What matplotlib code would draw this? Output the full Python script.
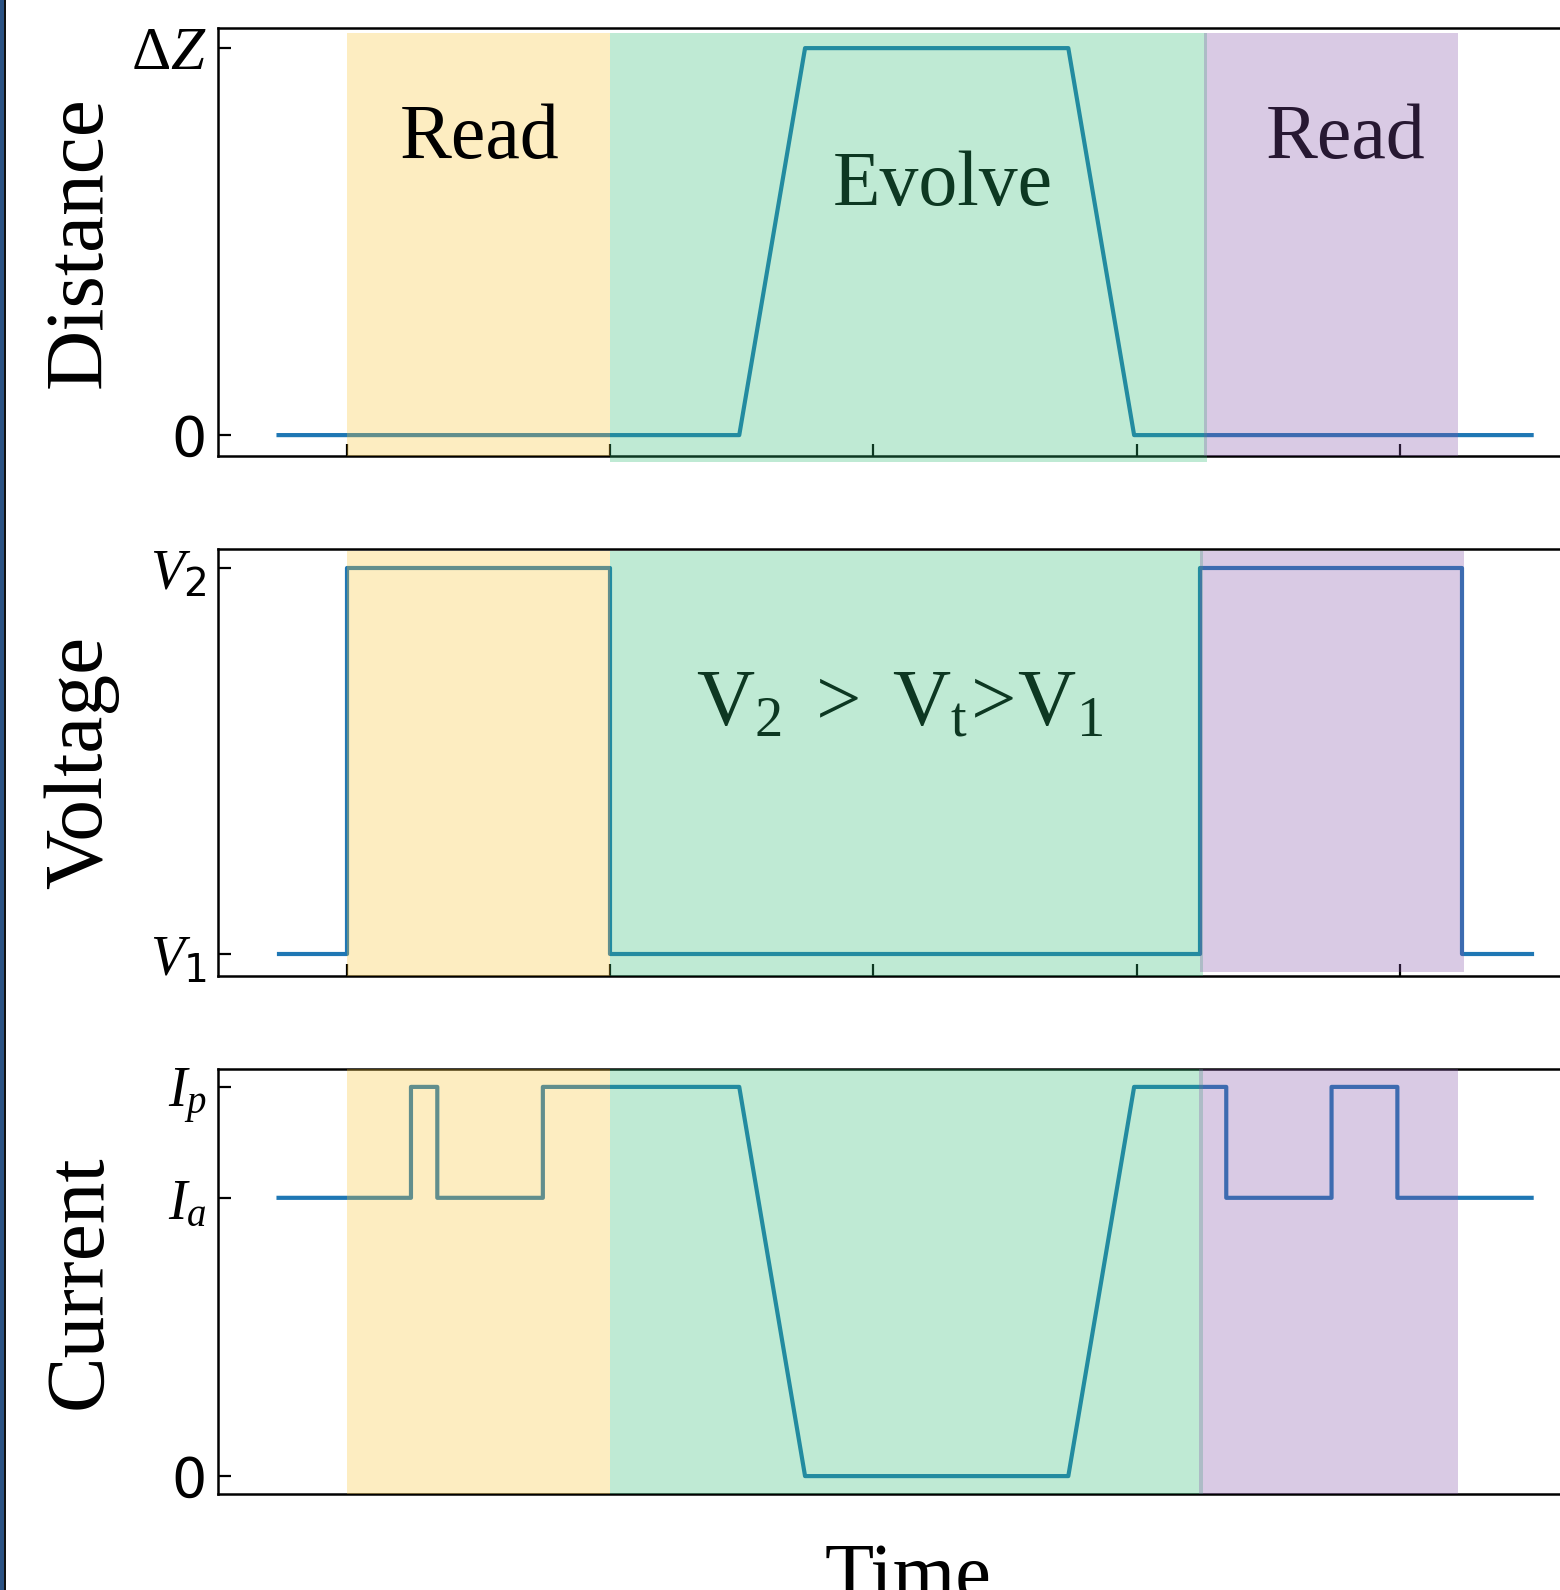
import matplotlib
matplotlib.use("Agg")
import matplotlib.pyplot as plt
from matplotlib.patches import Rectangle

# Time axis values (arbitrary units, ticks at 0..4)
t_distance = [-0.26, 1.49, 1.74, 2.74, 2.99, 4.5]
distance = [0, 0, 1, 1, 0, 0]

t_voltage = [-0.26, 0.0, 0.0, 1.0, 1.0, 3.24, 3.24, 4.235, 4.235, 4.5]
voltage = [0, 0, 1, 1, 0, 0, 1, 1, 0, 0]

I_P = 1.0
I_A = 0.715
t_current = [-0.26, 0.243, 0.243, 0.343, 0.343, 0.744, 0.744, 1.49, 1.74,
             2.74, 2.99, 3.34, 3.34, 3.74, 3.74, 3.99, 3.99, 4.5]
current = [I_A, I_A, I_P, I_P, I_A, I_A, I_P, I_P, 0, 0,
           I_P, I_P, I_A, I_A, I_P, I_P, I_A, I_A]

# phase windows (start, end) per panel: read / evolve / read
phases_distance = [(0.0, 1.0), (1.0, 3.267), (3.255, 4.22)]
phases_voltage = [(0.0, 1.0), (1.0, 3.25), (3.24, 4.243)]
phases_current = [(0.0, 1.0), (1.0, 3.252), (3.236, 4.22)]

ytick_distance = [0, 1]
ylabels_distance = ["0", r"Δ$Z$"]
ytick_voltage = [0, 1]
ylabels_voltage = [r"$V_1$", r"$V_2$"]
ytick_current = [0, I_A, I_P]
ylabels_current = ["0", r"$I_a$", r"$I_p$"]

phase_colors = ["#FAC634", "#2DBC73", "#8452A8"]
LINE_COLOR = "#1f77b4"
SERIF = "Liberation Serif"

plt.rcParams["mathtext.fontset"] = "custom"
plt.rcParams["mathtext.it"] = "Liberation Serif:italic"
plt.rcParams["mathtext.rm"] = "DejaVu Sans"
plt.rcParams["mathtext.bf"] = "DejaVu Sans:bold"

W, H = 1560, 1590
fig = plt.figure(figsize=(W / 100, H / 100), dpi=100)

AX_LEFT = 218
AX_RIGHT = 1600  # right spine falls outside the picture
X0_PX, PX_PER_UNIT = 347, 263.25
XLIM = ((AX_LEFT - X0_PX) / PX_PER_UNIT, (AX_RIGHT - X0_PX) / PX_PER_UNIT)


def make_axes(top, bottom):
    return fig.add_axes([AX_LEFT / W, 1 - bottom / H,
                         (AX_RIGHT - AX_LEFT) / W, (bottom - top) / H])


def style(ax, ylim, yticks, ylabels, ylabel, xticks=True):
    ax.set_xlim(*XLIM)
    ax.set_ylim(*ylim)
    for s in ax.spines.values():
        s.set_linewidth(1.8)
    ax.set_yticks(yticks)
    ax.set_yticklabels(ylabels)
    ax.tick_params(axis="y", direction="in", length=9, width=1.6,
                   labelsize=40, pad=8)
    ax.set_xticks([0, 1, 2, 3, 4])
    ax.set_xticklabels([])
    ax.tick_params(axis="x", direction="in", length=9 if xticks else 0,
                   width=1.6)
    ax.tick_params(right=False, top=False)
    ax.set_ylabel(ylabel, fontfamily=SERIF, fontsize=60)
    ax.yaxis.set_label_coords(-0.099, 0.5)
    ax.yaxis.label.set_va("center")


def shade(ax, phases, ymin=0.0, ymax=1.0, evolve_ymin=None, last_ymin=None):
    for i, ((a, b), c) in enumerate(zip(phases, phase_colors)):
        lo = ymin
        if i == 1 and evolve_ymin is not None:
            lo = evolve_ymin
        if i == 2 and last_ymin is not None:
            lo = last_ymin
        ax.axvspan(a, b, ymin=lo, ymax=ymax, color=c, alpha=0.3, lw=0,
                   zorder=3, clip_on=(i != 1 or evolve_ymin is None))


# Distance
ax1 = make_axes(28, 456)
ax1.plot(t_distance, distance, color=LINE_COLOR, lw=3, zorder=2)
style(ax1, (-0.054, 1.052), ytick_distance, ylabels_distance, "Distance")
ax1.get_yticklabels()[1].set_fontfamily(SERIF)
ax1.get_yticklabels()[1].set_fontsize(44)
shade(ax1, phases_distance, ymax=0.988, evolve_ymin=-0.014)
ax1.text(0.505, 0.716, "Read", fontfamily=SERIF, fontsize=56, ha="center",
         va="baseline", color="black", zorder=5)
ax1.text(2.264, 0.594, "Evolve", fontfamily=SERIF, fontsize=56, ha="center",
         va="baseline", color="black", zorder=2)
ax1.text(3.795, 0.716, "Read", fontfamily=SERIF, fontsize=56, ha="center",
         va="baseline", color="black", zorder=2)

# Voltage
ax2 = make_axes(549, 976)
ax2.plot(t_voltage, voltage, color=LINE_COLOR, lw=3, zorder=2)
style(ax2, (-0.057, 1.049), ytick_voltage, ylabels_voltage, "Voltage")
shade(ax2, phases_voltage, ymax=0.995, last_ymin=0.009)
ax2.text(2.10, 0.593, r"$\mathregular{V_2\ >\ V_t\!>\!V_1}$", fontfamily=SERIF,
         fontsize=58, ha="center", va="baseline", color="black", zorder=2)

# Current
ax3 = make_axes(1069, 1494)
ax3.plot(t_current, current, color=LINE_COLOR, lw=3, zorder=2)
style(ax3, (-0.046, 1.046), ytick_current, ylabels_current, "Current",
      xticks=False)
shade(ax3, phases_current)

fig.text(908 / W, 1 - 1543 / H, "Time", fontfamily=SERIF, fontsize=58,
         ha="center", va="top")

# slide border on the left edge
fig.patches.append(Rectangle((0, 0), 4 / W, 1, transform=fig.transFigure,
                             facecolor="#2b5283", edgecolor="none"))
fig.patches.append(Rectangle((4 / W, 0), 1.5 / W, 1, transform=fig.transFigure,
                             facecolor="#111111", edgecolor="none"))

fig.savefig("out.png", dpi=100)
